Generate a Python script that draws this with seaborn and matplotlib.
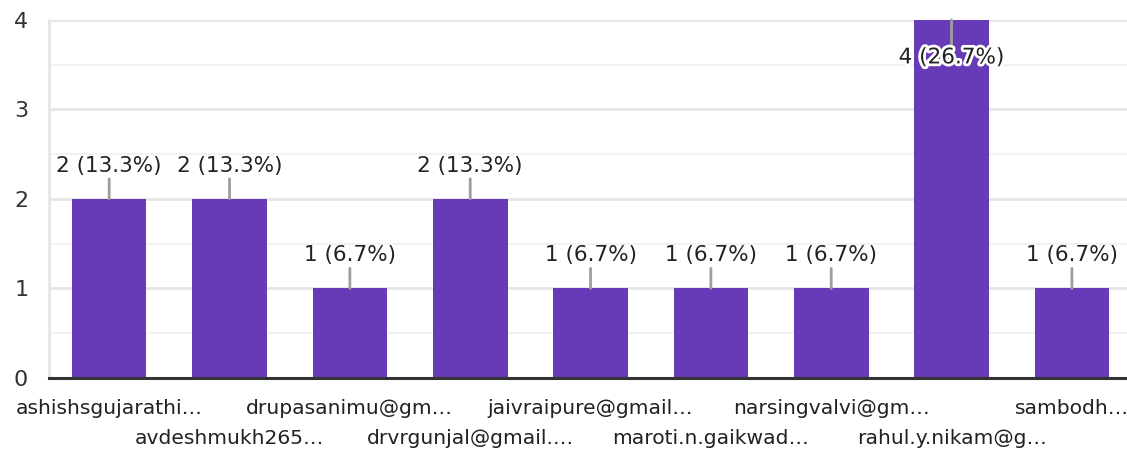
import matplotlib.pyplot as plt
import matplotlib.patheffects as pe
import pandas as pd
import seaborn as sns

# Data
emails = [
    "ashishsgujarathi…", "avdeshmukh265…", "drupasanimu@gm…",
    "drvrgunjal@gmail.…", "jaivraipure@gmail…", "maroti.n.gaikwad…",
    "narsingvalvi@gm…", "rahul.y.nikam@g…", "sambodh…",
]
counts = [2, 2, 1, 2, 1, 1, 1, 4, 1]
total = sum(counts)
y_ticks = [0, 1, 2, 3, 4]

df = pd.DataFrame({"email": emails, "count": counts})

sns.set_theme(style="white")
plt.rcParams["font.family"] = ["DejaVu Sans"]

fig = plt.figure(figsize=(11.27, 4.51), dpi=100)
ax = fig.add_axes([0.0435, 0.162, 0.961, 0.7938])

sns.barplot(df, x="email", y="count", color="#673ab7", saturation=1,
            width=0.62, ax=ax, zorder=3, linewidth=0)

ax.set_xlim(-0.5, 8.5)
ax.set_ylim(0, 4)
ax.set_yticks(y_ticks)
ax.set_yticks([0.5, 1.5, 2.5, 3.5], minor=True)
ax.grid(True, which="major", axis="y", color="#e6e6e6", lw=2, zorder=0)
ax.grid(True, which="minor", axis="y", color="#f2f2f2", lw=1.5, zorder=0)
ax.tick_params(axis="y", which="both", length=0, pad=15, labelsize=16,
               labelcolor="#333333")
ax.tick_params(axis="x", length=0)
ax.set_xticklabels([])
ax.set_xlabel("")
ax.set_ylabel("")

for s in ["top", "right"]:
    ax.spines[s].set_visible(False)
ax.spines["left"].set_color("#e6e6e6")
ax.spines["left"].set_linewidth(2)
ax.spines["bottom"].set_color("#333333")
ax.spines["bottom"].set_linewidth(2.2)
ax.spines["bottom"].set_zorder(5)

# Value labels with leader lines
for i, v in enumerate(counts):
    label = f"{v} ({v / total * 100:.1f}%)"
    inside = v == max(counts)
    off = -27 if inside else 24
    t = ax.annotate(label, xy=(i, v), xytext=(0, off),
                    textcoords="offset points", ha="center", va="center",
                    fontsize=15.5, color="#222222", zorder=6,
                    arrowprops=dict(arrowstyle="-", color="#9e9e9e",
                                    lw=2, shrinkA=0, shrinkB=0))
    if inside:
        t.set_path_effects([pe.withStroke(linewidth=4, foreground="white")])

# Staggered category labels
for i, name in enumerate(emails):
    dy = -22 if i % 2 == 0 else -43.5
    ax.annotate(name, xy=(i, 0), xycoords=("data", "axes fraction"),
                xytext=(0, dy), textcoords="offset points",
                ha="center", va="center", fontsize=14.6, color="#222222",
                annotation_clip=False)

fig.savefig("out.png", dpi=100)
